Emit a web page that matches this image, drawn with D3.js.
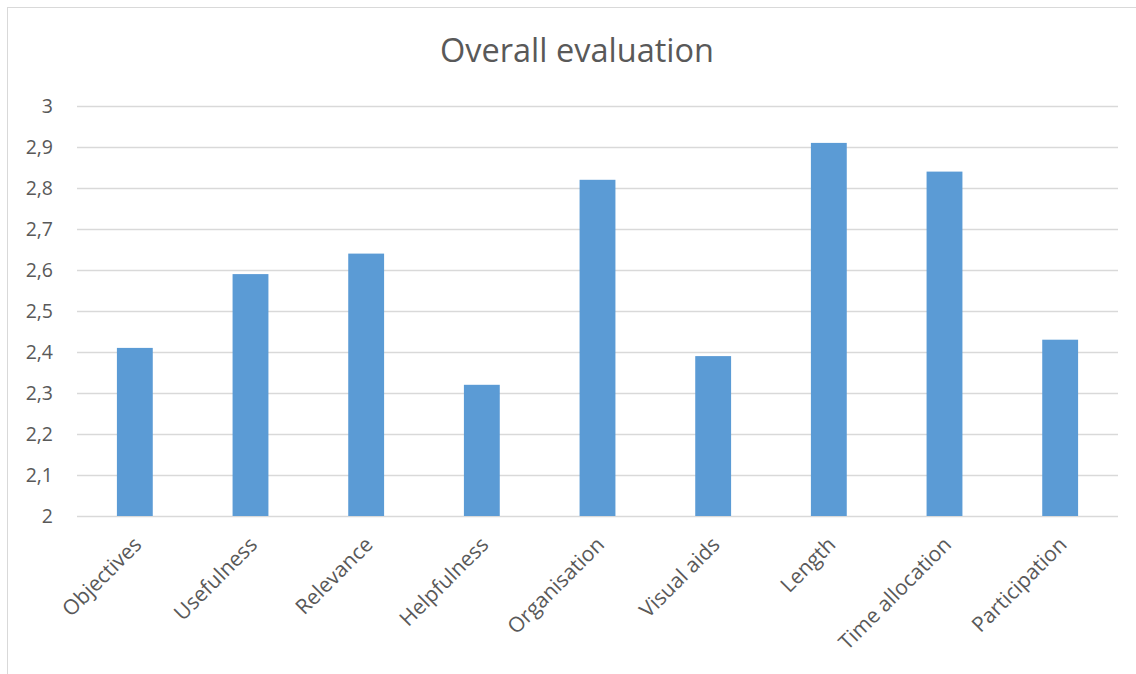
<!DOCTYPE html>
<html>
<head>
<meta charset="utf-8">
<script src="https://cdn.jsdelivr.net/npm/d3@7"></script>
<style>
  body { margin: 0; background: #fff; }
  svg { display: block; font-family: "Open Sans", "Liberation Sans", sans-serif; }
</style>
</head>
<body>
<svg id="chart" width="1136" height="674"></svg>
<script>
const categories = ["Objectives", "Usefulness", "Relevance", "Helpfulness", "Organisation",
  "Visual aids", "Length", "Time allocation", "Participation"];
const scores = [2.41, 2.59, 2.64, 2.32, 2.82, 2.39, 2.91, 2.84, 2.43];
const yTicks = [2, 2.1, 2.2, 2.3, 2.4, 2.5, 2.6, 2.7, 2.8, 2.9, 3];

const svg = d3.select("#chart");
const W = 1136, H = 674;
const margin = { top: 106, right: 18, bottom: 158, left: 77 };

// chart frame (right/bottom edges fall outside the picture)
svg.append("rect")
  .attr("x", 7.5).attr("y", 7.5)
  .attr("width", W + 20).attr("height", H + 20)
  .attr("fill", "#fff").attr("stroke", "#d9d9d9");

const x = d3.scaleBand()
  .domain(categories)
  .range([margin.left, W - margin.right])
  .paddingInner(0.69).paddingOuter(0.345);

const y = d3.scaleLinear()
  .domain([2, 3])
  .range([H - margin.bottom, margin.top]);

// gridlines
svg.append("g")
  .selectAll("line")
  .data(yTicks)
  .join("line")
  .attr("x1", margin.left).attr("x2", W - margin.right)
  .attr("y1", d => Math.round(y(d)) + 0.5).attr("y2", d => Math.round(y(d)) + 0.5)
  .attr("stroke", "#d9d9d9").attr("stroke-width", 1.3);

// y labels
svg.append("g")
  .selectAll("text")
  .data(yTicks)
  .join("text")
  .attr("x", 53).attr("y", d => y(d))
  .attr("dy", "0.35em")
  .attr("text-anchor", "end")
  .attr("font-size", 19.5)
  .attr("fill", "#595959")
  .text(d => d3.format(".1f")(d).replace(".", ",").replace(",0", ""));

// bars
svg.append("g")
  .selectAll("rect")
  .data(categories)
  .join("rect")
  .attr("x", d => x(d))
  .attr("width", x.bandwidth())
  .attr("y", (d, i) => y(scores[i]))
  .attr("height", (d, i) => y(2) - y(scores[i]))
  .attr("fill", "#5b9bd5");

// category labels
svg.append("g")
  .selectAll("text")
  .data(categories)
  .join("text")
  .attr("transform", d => `translate(${x(d) + x.bandwidth() / 2 + 8},${y(2) + 30}) rotate(-45)`)
  .attr("text-anchor", "end")
  .attr("font-size", 21)
  .attr("fill", "#595959")
  .text(d => d);

// title
svg.append("text")
  .attr("x", 577).attr("y", 62)
  .attr("text-anchor", "middle")
  .attr("font-size", 32.5)
  .attr("fill", "#595959")
  .text("Overall evaluation");
</script>
</body>
</html>
